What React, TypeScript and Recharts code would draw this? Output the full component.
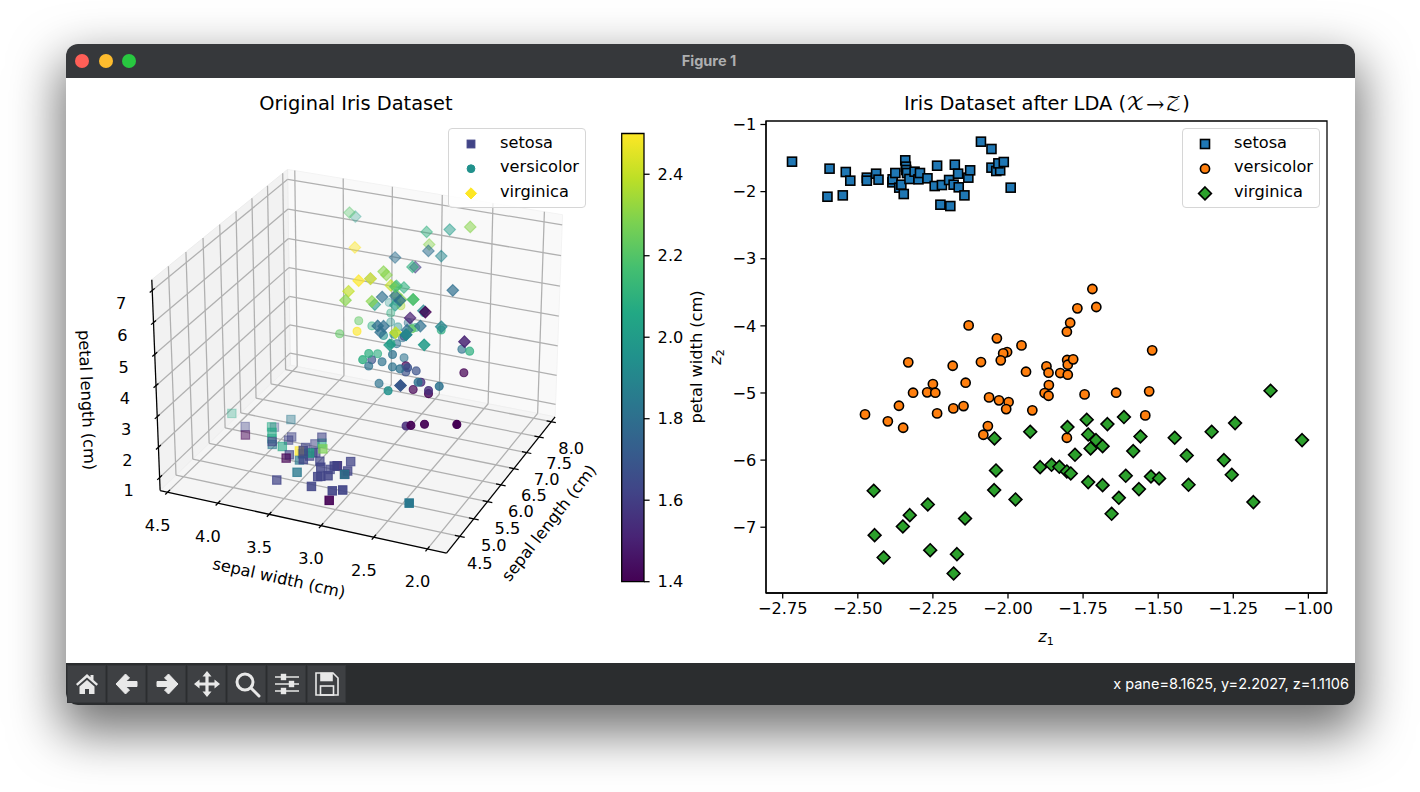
import React from 'react'
import { ScatterChart, Scatter, XAxis, YAxis, ReferenceLine, ReferenceArea } from 'recharts'

// iris measurements, one list per column and species
const setosaSepalLength = [5.1,4.9,4.7,4.6,5.0,5.4,4.6,5.0,4.4,4.9,5.4,4.8,4.8,4.3,5.8,5.7,5.4,5.1,5.7,5.1,5.4,5.1,4.6,5.1,4.8,5.0,5.0,5.2,5.2,4.7,4.8,5.4,5.2,5.5,4.9,5.0,5.5,4.9,4.4,5.1,5.0,4.5,4.4,5.0,5.1,4.8,5.1,4.6,5.3,5.0]
const setosaSepalWidth = [3.5,3.0,3.2,3.1,3.6,3.9,3.4,3.4,2.9,3.1,3.7,3.4,3.0,3.0,4.0,4.4,3.9,3.5,3.8,3.8,3.4,3.7,3.6,3.3,3.4,3.0,3.4,3.5,3.4,3.2,3.1,3.4,4.1,4.2,3.1,3.2,3.5,3.6,3.0,3.4,3.5,2.3,3.2,3.5,3.8,3.0,3.8,3.2,3.7,3.3]
const setosaPetalLength = [1.4,1.4,1.3,1.5,1.4,1.7,1.4,1.5,1.4,1.5,1.5,1.6,1.4,1.1,1.2,1.5,1.3,1.4,1.7,1.5,1.7,1.5,1.0,1.7,1.9,1.6,1.6,1.5,1.4,1.6,1.6,1.5,1.5,1.4,1.5,1.2,1.3,1.4,1.3,1.5,1.3,1.3,1.3,1.6,1.9,1.4,1.6,1.4,1.5,1.4]
const setosaPetalWidth = [.2,.2,.2,.2,.2,.4,.3,.2,.2,.1,.2,.2,.1,.1,.2,.4,.4,.3,.3,.3,.2,.4,.2,.5,.2,.2,.4,.2,.2,.2,.2,.4,.1,.2,.2,.2,.2,.1,.2,.2,.3,.3,.2,.6,.4,.3,.2,.2,.2,.2]

const versicolorSepalLength = [7.0,6.4,6.9,5.5,6.5,5.7,6.3,4.9,6.6,5.2,5.0,5.9,6.0,6.1,5.6,6.7,5.6,5.8,6.2,5.6,5.9,6.1,6.3,6.1,6.4,6.6,6.8,6.7,6.0,5.7,5.5,5.5,5.8,6.0,5.4,6.0,6.7,6.3,5.6,5.5,5.5,6.1,5.8,5.0,5.6,5.7,5.7,6.2,5.1,5.7]
const versicolorSepalWidth = [3.2,3.2,3.1,2.3,2.8,2.8,3.3,2.4,2.9,2.7,2.0,3.0,2.2,2.9,2.9,3.1,3.0,2.7,2.2,2.5,3.2,2.8,2.5,2.8,2.9,3.0,2.8,3.0,2.9,2.6,2.4,2.4,2.7,2.7,3.0,3.4,3.1,2.3,3.0,2.5,2.6,3.0,2.6,2.3,2.7,3.0,2.9,2.9,2.5,2.8]
const versicolorPetalLength = [4.7,4.5,4.9,4.0,4.6,4.5,4.7,3.3,4.6,3.9,3.5,4.2,4.0,4.7,3.6,4.4,4.5,4.1,4.5,3.9,4.8,4.0,4.9,4.7,4.3,4.4,4.8,5.0,4.5,3.5,3.8,3.7,3.9,5.1,4.5,4.5,4.7,4.4,4.1,4.0,4.4,4.6,4.0,3.3,4.2,4.2,4.2,4.3,3.0,4.1]
const versicolorPetalWidth = [1.4,1.5,1.5,1.3,1.5,1.3,1.6,1.0,1.3,1.4,1.0,1.5,1.0,1.4,1.3,1.4,1.5,1.0,1.5,1.1,1.8,1.3,1.5,1.2,1.3,1.4,1.4,1.7,1.5,1.0,1.1,1.0,1.2,1.6,1.5,1.6,1.5,1.3,1.3,1.3,1.2,1.4,1.2,1.0,1.3,1.2,1.3,1.3,1.1,1.3]

const virginicaSepalLength = [6.3,5.8,7.1,6.3,6.5,7.6,4.9,7.3,6.7,7.2,6.5,6.4,6.8,5.7,5.8,6.4,6.5,7.7,7.7,6.0,6.9,5.6,7.7,6.3,6.7,7.2,6.2,6.1,6.4,7.2,7.4,7.9,6.4,6.3,6.1,7.7,6.3,6.4,6.0,6.9,6.7,6.9,5.8,6.8,6.7,6.7,6.3,6.5,6.2,5.9]
const virginicaSepalWidth = [3.3,2.7,3.0,2.9,3.0,3.0,2.5,2.9,2.5,3.6,3.2,2.7,3.0,2.5,2.8,3.2,3.0,3.8,2.6,2.2,3.2,2.8,2.8,2.7,3.3,3.2,2.8,3.0,2.8,3.0,2.8,3.8,2.8,2.8,2.6,3.0,3.4,3.1,3.0,3.1,3.1,3.1,2.7,3.2,3.3,3.0,2.5,3.0,3.4,3.0]
const virginicaPetalLength = [6.0,5.1,5.9,5.6,5.8,6.6,4.5,6.3,5.8,6.1,5.1,5.3,5.5,5.0,5.1,5.3,5.5,6.7,6.9,5.0,5.7,4.9,6.7,4.9,5.7,6.0,4.8,4.9,5.6,5.8,6.1,6.4,5.6,5.1,5.6,6.1,5.6,5.5,4.8,5.4,5.6,5.1,5.1,5.9,5.7,5.2,5.0,5.2,5.4,5.1]
const virginicaPetalWidth = [2.5,1.9,2.1,1.8,2.2,2.1,1.7,1.8,1.8,2.5,2.0,1.9,2.1,2.0,2.4,2.3,1.8,2.2,2.3,1.5,2.3,2.0,2.0,1.8,2.1,1.8,1.8,1.8,2.1,1.6,1.9,2.0,2.2,1.5,1.4,2.3,2.4,1.8,1.8,2.1,2.4,2.3,1.9,2.3,2.5,2.3,1.9,2.0,2.3,1.8]

// LDA result
const setosaZ1 = [-2.719,-2.594,-2.601,-2.550,-2.540,-2.525,-2.470,-2.470,-2.439,-2.431,-2.385,-2.384,-2.375,-2.362,-2.355,-2.347,-2.342,-2.340,-2.339,-2.336,-2.328,-2.311,-2.298,-2.293,-2.268,-2.244,-2.236,-2.225,-2.220,-2.196,-2.192,-2.181,-2.177,-2.166,-2.164,-2.145,-2.132,-2.126,-2.090,-2.055,-2.055,-2.039,-2.026,-2.032,-2.014,-1.991]
const setosaZ2 = [-1.554,-1.658,-2.076,-2.056,-1.708,-1.837,-1.792,-1.837,-1.733,-1.822,-1.862,-1.817,-1.723,-1.941,-1.897,-2.036,-1.534,-1.628,-1.678,-1.723,-1.812,-1.703,-1.817,-1.723,-1.802,-1.917,-1.614,-2.195,-1.902,-1.827,-2.215,-1.897,-1.599,-1.733,-1.936,-2.056,-1.792,-1.683,-1.256,-1.365,-1.643,-1.693,-1.683,-1.579,-1.559,-1.941]
const versicolorZ1 = [-1.719,-1.769,-1.706,-1.793,-1.804,-2.131,-2.037,-1.955,-1.520,-2.003,-2.016,-2.024,-2.332,-2.184,-2.090,-1.940,-1.872,-1.865,-1.826,-1.803,-1.801,-1.783,-1.801,-2.250,-2.141,-1.864,-2.316,-2.269,-2.242,-2.063,-2.030,-1.998,-1.878,-1.865,-1.745,-1.640,-1.530,-2.363,-2.148,-2.182,-2.236,-2.006,-1.919,-2.476,-1.543,-2.400,-2.349,-2.067,-2.082,-1.804]
const versicolorZ2 = [-3.451,-3.739,-3.719,-3.953,-4.087,-3.993,-4.186,-4.291,-4.365,-4.390,-4.410,-4.514,-4.544,-4.594,-4.539,-4.683,-4.604,-4.698,-4.703,-4.509,-4.579,-4.499,-4.728,-4.867,-4.847,-4.882,-4.996,-4.991,-4.996,-5.066,-5.110,-5.135,-5.001,-5.041,-5.021,-4.996,-4.976,-5.190,-5.195,-5.230,-5.304,-5.240,-5.259,-5.319,-5.334,-5.423,-5.518,-5.493,-5.622,-5.667]
const virginicaZ1 = [-1.126,-1.244,-1.322,-1.021,-1.614,-1.669,-1.738,-1.802,-1.926,-2.045,-1.733,-1.707,-1.685,-1.725,-1.559,-1.445,-1.583,-1.777,-1.405,-1.281,-1.893,-1.855,-1.829,-1.804,-1.791,-2.040,-1.608,-1.524,-1.497,-1.255,-1.733,-1.685,-1.399,-1.564,-2.046,-2.447,-1.975,-1.631,-1.183,-2.267,-1.655,-2.327,-2.143,-2.350,-2.444,-2.259,-2.170,-2.414,-2.181]
const virginicaZ2 = [-4.967,-5.449,-5.578,-5.702,-5.359,-5.464,-5.399,-5.508,-5.578,-5.677,-5.618,-5.702,-5.792,-5.826,-5.648,-5.667,-5.866,-5.921,-5.931,-6.000,-6.105,-6.070,-6.100,-6.169,-6.199,-6.154,-6.234,-6.244,-6.273,-6.219,-6.328,-6.373,-6.368,-6.432,-6.447,-6.457,-6.586,-6.562,-6.626,-6.661,-6.800,-6.820,-6.870,-6.989,-7.118,-7.342,-7.401,-7.451,-7.689]

const sepalLengthTicks = [4.5,5.0,5.5,6.0,6.5,7.0,7.5,8.0]
const sepalWidthTicks = [2.0,2.5,3.0,3.5,4.0,4.5]
const petalLengthTicks = [1,2,3,4,5,6,7]
const colorTicks = [1.4,1.6,1.8,2.0,2.2,2.4]
const z1Ticks = [-2.75,-2.5,-2.25,-2,-1.75,-1.5,-1.25,-1]
const z2Ticks = [-7,-6,-5,-4,-3,-2,-1]
const speciesNames = ['setosa','versicolor','virginica']

const viridis = ['#440154','#482475','#414487','#355f8d','#2a788e','#21918c','#22a884','#44bf70','#7ad151','#bddf26','#fde725']

const FONT = '"DejaVu Sans", sans-serif'
const TICK_SIZE = 16.2
const STROKE = 1.27

function viridisAt(t: number) {
  const pos = Math.min(Math.max(t, 0), 1) * 10
  const i = Math.min(Math.floor(pos), 9)
  const f = pos - i
  const rgb = (hex: string) => [1, 3, 5].map((k) => parseInt(hex.slice(k, k + 2), 16))
  const a = rgb(viridis[i])
  const b = rgb(viridis[i + 1])
  return `rgb(${a.map((v, k) => Math.round(v + (b[k] - v) * f)).join(',')})`
}

// 3d camera, same maths as mplot3d
const LEFT_W = 554
const LEFT_H = 585
const ELEV = 26 * Math.PI / 180
const AZIM = 203.5 * Math.PI / 180
const SCALE = 2570
const CENTER_X = 363 - 66
const CENTER_Y = 351.5 - 78
const xLim = [4.0375, 8.1625]
const yLim = [1.825, 4.575]
const zLim = [0.5698, 7.3302]
const BOX = [1.19, 1.19, 0.893]

const w = [Math.cos(ELEV) * Math.cos(AZIM), Math.cos(ELEV) * Math.sin(AZIM), Math.sin(ELEV)]
const uLen = Math.hypot(w[0], w[1])
const u = [-w[1] / uLen, w[0] / uLen, 0]
const v = [w[1] * u[2] - w[2] * u[1], w[2] * u[0] - w[0] * u[2], w[0] * u[1] - w[1] * u[0]]

function project(x: number, y: number, z: number) {
  const p = [
    ((x - xLim[0]) / (xLim[1] - xLim[0]) - 0.5) * BOX[0],
    ((y - yLim[0]) / (yLim[1] - yLim[0]) - 0.5) * BOX[1],
    ((z - zLim[0]) / (zLim[1] - zLim[0]) - 0.5) * BOX[2],
  ]
  const dot = (a: number[]) => a[0] * p[0] + a[1] * p[1] + a[2] * p[2]
  const depth = 10 - dot(w)
  return { x: CENTER_X + SCALE * dot(u) / depth, y: CENTER_Y - SCALE * dot(v) / depth, depth }
}

function buildShaded(sl: number[], sw: number[], pl: number[], pw: number[]) {
  const pts = sl.map((s, i) => ({ ...project(s, sw[i], pl[i]), pw: pw[i] }))
  const dMin = Math.min(...pts.map((p) => p.depth))
  const dMax = Math.max(...pts.map((p) => p.depth))
  const cMin = Math.min(...pw)
  const cMax = Math.max(...pw)
  return pts
    .map((p) => ({
      x: p.x, y: p.y, depth: p.depth,
      color: viridisAt((p.pw - cMin) / (cMax - cMin)),
      alpha: 1 - ((p.depth - dMin) / (dMax - dMin)) * 0.7,
    }))
    .sort((a, b) => b.depth - a.depth)
}

const setosa3d = buildShaded(setosaSepalLength, setosaSepalWidth, setosaPetalLength, setosaPetalWidth)
const versicolor3d = buildShaded(versicolorSepalLength, versicolorSepalWidth, versicolorPetalLength, versicolorPetalWidth)
const virginica3d = buildShaded(virginicaSepalLength, virginicaSepalWidth, virginicaPetalLength, virginicaPetalWidth)

const toRows = (xs: number[], ys: number[]) => xs.map((x, i) => ({ x, y: ys[i] }))

function Marker({ kind, cx, cy, r, fill, stroke, sw, fillOpacity = 1, strokeOpacity = 1 }: any) {
  const common = { fill, stroke, strokeWidth: sw, fillOpacity, strokeOpacity }
  if (kind === 'square') return <rect x={cx - r} y={cy - r} width={r * 2} height={r * 2} {...common} />
  if (kind === 'circle') return <circle cx={cx} cy={cy} r={r} {...common} />
  return <polygon points={`${cx},${cy - r} ${cx + r},${cy} ${cx},${cy + r} ${cx - r},${cy}`} {...common} />
}

const shaded = (kind: string, r: number) => (props: any) => (
  <Marker kind={kind} cx={props.cx} cy={props.cy} r={r} fill={props.payload.color} stroke={props.payload.color} sw={1.1}
    fillOpacity={props.payload.alpha} strokeOpacity={props.payload.alpha} />
)
const edged = (kind: string, r: number, fill: string) => (props: any) => (
  <Marker kind={kind} cx={props.cx} cy={props.cy} r={r} fill={fill} stroke="#000" sw={1.6} />
)

function LegendBox({ left, items }: { left: number; items: any[] }) {
  return (
    <div style={{ position: 'absolute', left, top: 128, width: 138, height: 80, boxSizing: 'border-box', background: 'rgba(255,255,255,0.8)', border: '1.3px solid #d6d6d6', borderRadius: 4 }}>
      <svg width={138} height={80} style={{ position: 'absolute', left: -1, top: -1 }}>
        {items.map((it, i) => (
          <g key={it.name}>
            <Marker {...it.marker} cx={23} cy={16 + i * 24.7} />
            <text x={52} y={14.5 + i * 24.3} dominantBaseline="central" fontSize={TICK_SIZE} fontFamily={FONT} fill="#000">{it.name}</text>
          </g>
        ))}
      </svg>
    </div>
  )
}

// one 3d segment drawn through the chart's scales
function seg3(a: number[], b: number[], stroke: string, width: number, key: string) {
  const p = project(a[0], a[1], a[2])
  const q = project(b[0], b[1], b[2])
  return <ReferenceLine key={key} segment={[{ x: p.x, y: p.y }, { x: q.x, y: q.y }]} stroke={stroke} strokeWidth={width} ifOverflow="visible" />
}

const poly = (pts: number[][]) => pts.map((c) => { const p = project(c[0], c[1], c[2]); return `${p.x},${p.y}` }).join(' ')

function buildAxes3d() {
  const [x0, x1] = xLim
  const [y0, y1] = yLim
  const [z0, z1] = zLim
  const out: any[] = []
  const grid = '#b0b0b0'
  sepalLengthTicks.forEach((t) => {
    out.push(seg3([t, y0, z0], [t, y1, z0], grid, STROKE, `gx${t}a`), seg3([t, y1, z0], [t, y1, z1], grid, STROKE, `gx${t}b`))
  })
  sepalWidthTicks.forEach((t) => {
    out.push(seg3([x0, t, z0], [x1, t, z0], grid, STROKE, `gy${t}a`), seg3([x1, t, z0], [x1, t, z1], grid, STROKE, `gy${t}b`))
  })
  petalLengthTicks.forEach((t) => {
    out.push(seg3([x0, y1, t], [x1, y1, t], grid, STROKE, `gz${t}a`), seg3([x1, y1, t], [x1, y0, t], grid, STROKE, `gz${t}b`))
  })
  out.push(seg3([x0, y0, z0], [x1, y0, z0], '#000', STROKE, 'ax'), seg3([x0, y0, z0], [x0, y1, z0], '#000', STROKE, 'ay'), seg3([x0, y1, z0], [x0, y1, z1], '#000', STROKE, 'az'))
  const dx = (x1 - x0) / 12
  const dy = (y1 - y0) / 12
  sepalLengthTicks.forEach((t) => out.push(seg3([t, y0 + dy * 0.2, z0], [t, y0 - dy * 0.2, z0], '#000', STROKE, `tx${t}`)))
  sepalWidthTicks.forEach((t) => out.push(seg3([x0 + dx * 0.2, t, z0], [x0 - dx * 0.2, t, z0], '#000', STROKE, `ty${t}`)))
  petalLengthTicks.forEach((t) => out.push(seg3([x0 + dx * 0.2, y1, t], [x0 - dx * 0.2, y1, t], '#000', STROKE, `tz${t}`)))
  return out
}

function tickText(str: string, x: number, y: number, key: string) {
  return <text key={key} x={x} y={y} textAnchor="middle" dominantBaseline="central" fontSize={TICK_SIZE} fontFamily={FONT} fill="#000">{str}</text>
}

function Iris3d() {
  const [x0, x1] = xLim
  const [y0, y1] = yLim
  const [z0, z1] = zLim
  return (
    <div style={{ position: 'absolute', left: 66, top: 78 }}>
      <ScatterChart width={LEFT_W} height={LEFT_H} margin={{ top: 0, right: 0, bottom: 0, left: 0 }}>
        <XAxis type="number" dataKey="x" domain={[0, LEFT_W]} hide />
        <YAxis type="number" dataKey="y" domain={[0, LEFT_H]} reversed hide />
        <polygon points={poly([[x1, y0, z0], [x1, y1, z0], [x1, y1, z1], [x1, y0, z1]])} fill="#f9f9f9" stroke="#f3f3f3" />
        <polygon points={poly([[x0, y1, z0], [x1, y1, z0], [x1, y1, z1], [x0, y1, z1]])} fill="#f2f2f2" stroke="#ececec" />
        <polygon points={poly([[x0, y0, z0], [x1, y0, z0], [x1, y1, z0], [x0, y1, z0]])} fill="#f5f5f5" stroke="#efefef" />
        {buildAxes3d()}
        <Scatter data={versicolor3d} shape={shaded('circle', 4)} isAnimationActive={false} />
        <Scatter data={virginica3d} shape={shaded('diamond', 5.8)} isAnimationActive={false} />
        <Scatter data={setosa3d} shape={shaded('square', 4.2)} isAnimationActive={false} />
        {sepalLengthTicks.map((t) => { const p = project(t, y0, z0); return tickText(t.toFixed(1), p.x + 20, p.y + 27, `lx${t}`) })}
        {sepalWidthTicks.map((t) => { const p = project(x0, t, z0); return tickText(t.toFixed(1), p.x - 10, p.y + 33, `ly${t}`) })}
        {petalLengthTicks.map((t) => { const p = project(x0, y1, t); return tickText(String(t), p.x - 31, p.y + 13, `lz${t}`) })}
        <text transform="translate(213,500) rotate(12.5)" textAnchor="middle" dominantBaseline="central" fontSize={TICK_SIZE} fontFamily={FONT}>sepal width (cm)</text>
        <text transform="translate(483,445) rotate(-52)" textAnchor="middle" dominantBaseline="central" fontSize={TICK_SIZE} fontFamily={FONT}>sepal length (cm)</text>
        <text transform="translate(21,322) rotate(87.5)" textAnchor="middle" dominantBaseline="central" fontSize={TICK_SIZE} fontFamily={FONT}>petal length (cm)</text>
      </ScatterChart>
    </div>
  )
}

function ColorBar() {
  return (
    <div style={{ position: 'absolute', left: 600, top: 120 }}>
      <ScatterChart width={140} height={480} margin={{ top: 13.5, right: 0, bottom: 18.3, left: 21.7 }}>
        <defs>
          <linearGradient id="viridisGrad" x1="0" y1="1" x2="0" y2="0">
            {viridis.map((c, i) => <stop key={c} offset={`${i * 10}%`} stopColor={c} />)}
          </linearGradient>
        </defs>
        <XAxis type="number" dataKey="x" domain={[0, 1]} hide />
        <YAxis type="number" dataKey="y" orientation="right" width={96} domain={[1.4, 2.5]} ticks={colorTicks} interval={0}
          tickFormatter={(t: number) => t.toFixed(1)} tickSize={5.6} tickMargin={8} axisLine={false}
          tickLine={{ stroke: '#000', strokeWidth: STROKE }} tick={{ fontSize: TICK_SIZE, fontFamily: FONT, fill: '#000' }} />
        <ReferenceArea x1={0} x2={1} y1={1.4} y2={2.5} fill="url(#viridisGrad)" fillOpacity={1} stroke="#000" strokeWidth={STROKE} ifOverflow="visible" />
        <Scatter data={colorTicks.map((y) => ({ x: 0.5, y }))} shape={() => <g />} isAnimationActive={false} />
        <text transform="translate(96,237) rotate(-90)" textAnchor="middle" dominantBaseline="central" fontSize={TICK_SIZE} fontFamily={FONT}>petal width (cm)</text>
      </ScatterChart>
    </div>
  )
}

const fmtMinus = (t: number, d: number) => t.toFixed(d).replace('-', '\u2212')

function LdaChart() {
  const axisTick = { fontSize: TICK_SIZE, fontFamily: FONT, fill: '#000' }
  const line = { stroke: '#000', strokeWidth: STROKE }
  return (
    <div style={{ position: 'absolute', left: 700, top: 100 }}>
      <ScatterChart width={640} height={550} margin={{ top: 21, right: 13, bottom: 0, left: 0 }}>
        <XAxis type="number" dataKey="x" domain={[-2.8056, -0.938]} ticks={z1Ticks} interval={0} height={57} allowDataOverflow
          tickFormatter={(t: number) => fmtMinus(t, 2)} tickSize={5.6} tickMargin={4} axisLine={line} tickLine={line} tick={axisTick} />
        <YAxis type="number" dataKey="y" domain={[-7.98, -0.948]} ticks={z2Ticks} interval={0} width={66} allowDataOverflow
          tickFormatter={(t: number) => fmtMinus(t, 0)} tickSize={5.6} tickMargin={4} axisLine={line} tickLine={line} tick={axisTick} />
        <ReferenceArea x1={-2.8056} x2={-0.938} y1={-7.98} y2={-0.948} fill="none" stroke="#000" strokeWidth={STROKE} />
        <Scatter data={toRows(setosaZ1, setosaZ2)} shape={edged('square', 4.5, '#1f77b4')} isAnimationActive={false} />
        <Scatter data={toRows(versicolorZ1, versicolorZ2)} shape={edged('circle', 4.6, '#ff7f0e')} isAnimationActive={false} />
        <Scatter data={toRows(virginicaZ1, virginicaZ2)} shape={edged('diamond', 6.4, '#2ca02c')} isAnimationActive={false} />
        <text x={346} y={542} textAnchor="middle" fontSize={TICK_SIZE} fontFamily={FONT} fontStyle="italic">z<tspan fontSize={11} dy={3} fontStyle="normal">1</tspan></text>
        <text transform="translate(21,257) rotate(-90)" textAnchor="middle" fontSize={TICK_SIZE} fontFamily={FONT} fontStyle="italic">z<tspan fontSize={11} dy={3} fontStyle="normal">2</tspan></text>
      </ScatterChart>
    </div>
  )
}

function ToolIcon({ i }: { i: number }) {
  const c = '#e8e8e8'
  const icons = [
    <path key="h" d="M1 12 L12 2 L15.5 5.2 V3 H18.5 V8 L23 12 L21.5 13.8 L12 5.5 L2.5 13.8 Z M4.5 14.5 L12 8 L19.5 14.5 V22 H14 V17 H10 V22 H4.5 Z" fill={c} />,
    <path key="b" d="M10.5 2 L14.5 6 L10.5 9.5 H22 V14.5 H10.5 L14.5 18 L10.5 22 L1 12 Z" fill={c} stroke={c} strokeLinejoin="round" />,
    <path key="f" d="M13.5 2 L9.5 6 L13.5 9.5 H2 V14.5 H13.5 L9.5 18 L13.5 22 L23 12 Z" fill={c} stroke={c} strokeLinejoin="round" />,
    <path key="m" d="M12 -1 L16.5 4.5 H13.6 V10.4 H19.5 V7.5 L25 12 L19.5 16.5 V13.6 H13.6 V19.5 H16.5 L12 25 L7.5 19.5 H10.4 V13.6 H4.5 V16.5 L-1 12 L4.5 7.5 V10.4 H10.4 V4.5 H7.5 Z" fill={c} />,
    <g key="z" fill="none" stroke={c} strokeWidth={3}><circle cx={10} cy={10} r={8} /><path d="M16 16 L24 24" strokeLinecap="round" /></g>,
    <g key="c" stroke={c} strokeWidth={1.4}><path d="M0 5 H24 M0 12 H24 M0 19 H24" /><rect x={6.5} y={2.5} width={4} height={5} fill={c} /><rect x={14.5} y={9.5} width={4} height={5} fill={c} /><rect x={6.5} y={16.5} width={4} height={5} fill={c} /></g>,
    <g key="s" fill="none" stroke={c} strokeWidth={1.6}><path d="M1 1 H18 L23 6 V23 H1 Z" /><rect x={6} y={1.5} width={11} height={7} fill={c} /><rect x={5.5} y={14} width={13} height={9} /></g>,
  ]
  return (
    <div style={{ position: 'absolute', left: 67 + i * 40, top: 665, width: 39, height: 38, background: '#3e4043', border: '1px solid #35373a', boxSizing: 'border-box' }}>
      <svg width={24} height={24} viewBox="0 0 24 24" style={{ position: 'absolute', left: 6.5, top: 6, overflow: 'visible' }}>{icons[i]}</svg>
    </div>
  )
}

export default function App() {
  const leftItems = [
    { name: speciesNames[0], marker: { kind: 'square', r: 3.9, fill: viridisAt(0.2), stroke: viridisAt(0.2), sw: 1 } },
    { name: speciesNames[1], marker: { kind: 'circle', r: 3.9, fill: viridisAt(0.5), stroke: viridisAt(0.5), sw: 1 } },
    { name: speciesNames[2], marker: { kind: 'diamond', r: 5.6, fill: viridisAt(1), stroke: viridisAt(1), sw: 1 } },
  ]
  const rightItems = [
    { name: speciesNames[0], marker: { kind: 'square', r: 4.5, fill: '#1f77b4', stroke: '#000', sw: 1.6 } },
    { name: speciesNames[1], marker: { kind: 'circle', r: 4.6, fill: '#ff7f0e', stroke: '#000', sw: 1.6 } },
    { name: speciesNames[2], marker: { kind: 'diamond', r: 6.4, fill: '#2ca02c', stroke: '#000', sw: 1.6 } },
  ]
  return (
    <div style={{ position: 'fixed', left: 0, top: 0, width: 1420, height: 792, background: '#fff', overflow: 'hidden', fontFamily: FONT }}>
      <div style={{ position: 'absolute', left: 66, top: 44, width: 1289, height: 661, borderRadius: 12, background: '#fff', boxShadow: '0 22px 50px 6px rgba(0,0,0,0.55)' }} />
      <div style={{ position: 'absolute', left: 66, top: 44, width: 1289, height: 34, background: '#36383b', borderRadius: '12px 12px 0 0' }} />
      {['#ff5f57', '#febc2e', '#28c840'].map((c, i) => (
        <div key={c} style={{ position: 'absolute', left: 75 + i * 23.5, top: 54, width: 14, height: 14, borderRadius: 7, background: c }} />
      ))}
      <div style={{ position: 'absolute', left: 66, top: 44, width: 1286, height: 34, lineHeight: '33px', textAlign: 'center', color: '#aeafb0', fontFamily: 'Inter, sans-serif', fontWeight: 700, fontSize: 14.5 }}>Figure 1</div>

      <div style={{ position: 'absolute', left: 66, top: 663, width: 1289, height: 42, background: '#2b2d2f', borderRadius: '0 0 12px 12px' }} />
      {[0, 1, 2, 3, 4, 5, 6].map((i) => <ToolIcon key={i} i={i} />)}
      <div style={{ position: 'absolute', right: 71, top: 675, color: '#fff', fontFamily: 'Inter, sans-serif', fontSize: 14.5, lineHeight: '18px' }}>x pane=8.1625, y=2.2027, z=1.1106</div>

      <Iris3d />
      <ColorBar />
      <LdaChart />

      <div style={{ position: 'absolute', left: 156, width: 400, top: 92, textAlign: 'center', fontSize: 19.4, lineHeight: '24px', color: '#000' }}>Original Iris Dataset</div>
      <div style={{ position: 'absolute', left: 797, width: 500, top: 92, textAlign: 'center', fontSize: 19.4, lineHeight: '24px', color: '#000' }}>Iris Dataset after LDA (<span style={{ fontFamily: '"DejaVu Math TeX Gyre", "DejaVu Sans"', letterSpacing: 1 }}>𝒳→𝒵</span>)</div>
      <LegendBox left={448} items={leftItems} />
      <LegendBox left={1182} items={rightItems} />
    </div>
  )
}
